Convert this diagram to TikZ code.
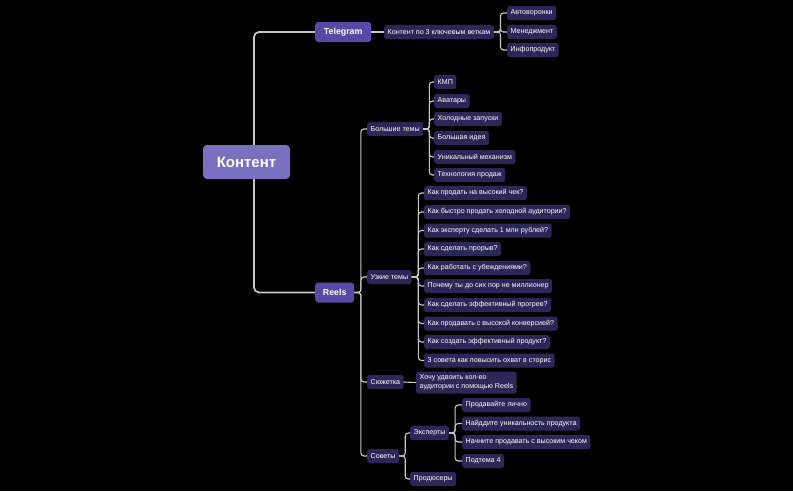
\documentclass[tikz,border=0pt]{standalone}
\usepackage{fontspec}
\setmainfont{Liberation Sans}
\definecolor{bgc}{HTML}{000000}
\definecolor{linec}{HTML}{C8C8C8}
\definecolor{rootc}{HTML}{7A70C0}
\definecolor{midc}{HTML}{5849A6}
\definecolor{leafc}{HTML}{2D2757}
\begin{document}
\begin{tikzpicture}[x=1pt,y=-1pt,
  conn/.style={draw=linec, line width=1.1pt, rounded corners=3pt},
  mainconn/.style={draw=linec, line width=1.7pt, rounded corners=5pt},
  leaf/.style={fill=leafc, text=white, rounded corners=2.5pt, anchor=west,
    minimum height=14pt, inner xsep=3.5pt, inner ysep=0pt,
    font=\fontsize{7.1}{8.5}\selectfont},
  mid/.style={fill=midc, text=white, rounded corners=3pt, anchor=west,
    minimum height=20pt, inner xsep=0pt, inner ysep=0pt,
    font=\fontsize{8.8}{10}\selectfont\bfseries},
  rootbox/.style={fill=rootc, text=white, rounded corners=4pt,
    minimum width=87pt, minimum height=34pt, inner sep=0pt,
    font=\fontsize{15}{17}\selectfont\bfseries}]
\fill[bgc] (0,-1) rectangle (793,490);
\useasboundingbox (0,-1) rectangle (793,490);

% connectors from root (drawn first, behind root)
\coordinate (rtop) at (254,150);
\coordinate (rbot) at (254,172);

% nodes
\node[mid, minimum width=56pt] (tg) at (315,31) {Telegram};
\node[mid, minimum width=39pt] (reels) at (315,291.5) {Reels};

\draw[mainconn] (rtop) |- (tg.west);
\draw[mainconn] (rbot) |- (reels.west);
\node[rootbox] (root) at (246.5,161) {Контент};

% Telegram branch
\node[leaf] (k3) at (384,31) {Контент по 3 ключевым веткам};
\node[leaf] (t1) at (507,12) {Автоворонки};
\node[leaf] (t2) at (507,31) {Менеджмент};
\node[leaf] (t3) at (507,49) {Инфопродукт};
\draw[conn] (tg.east) -- (k3.west);
\foreach \c in {t1,t2,t3} \draw[conn] (k3.east) -- ++(6.5,0) |- (\c.west);

% Reels branch
\node[leaf] (bt) at (367,128) {Большие темы};
\node[leaf] (ut) at (367,276) {Узкие темы};
\node[leaf] (sj) at (367,381) {Сюжетка};
\node[leaf] (sv) at (367,455) {Советы};
\foreach \c in {bt,ut,sj,sv} \draw[conn] (reels.east) -- ++(6.5,0) |- (\c.west);

% Большие темы
\node[leaf] (b1) at (434,81) {КМП};
\node[leaf] (b2) at (434,100) {Аватары};
\node[leaf] (b3) at (434,118) {Холодные запуски};
\node[leaf] (b4) at (434,137) {Большая идея};
\node[leaf] (b5) at (434,156) {Уникальный механизм};
\node[leaf] (b6) at (434,174) {Технология продаж};
\foreach \c in {b1,b2,b3,b4,b5,b6} \draw[conn] (bt.east) -- ++(6,0) |- (\c.west);

% Узкие темы
\node[leaf] (u1) at (424,192) {Как продать на высокий чек?};
\node[leaf] (u2) at (424,211) {Как быстро продать холодной аудитории?};
\node[leaf] (u3) at (424,229.5) {Как эксперту сделать 1 млн рублей?};
\node[leaf] (u4) at (424,248) {Как сделать прорыв?};
\node[leaf] (u5) at (424,267) {Как работать с убеждениями?};
\node[leaf] (u6) at (424,285) {Почему ты до сих пор не миллионер};
\node[leaf] (u7) at (424,304) {Как сделать эффективный прогрев?};
\node[leaf] (u8) at (424,322.5) {Как продавать с высокой конверсией?};
\node[leaf] (u9) at (424,341) {Как создать эффективный продукт?};
\node[leaf] (u10) at (424,359.5) {3 совета как повысить охват в сторис};
\foreach \c in {u1,u2,u3,u4,u5,u6,u7,u8,u9,u10} \draw[conn] (ut.east) -- ++(6.5,0) |- (\c.west);

% Сюжетка
\node[leaf, minimum height=22pt, align=left] (sj1) at (416,381.5) {Хочу удвоить кол-во\\аудитории с помощью Reels};
\draw[conn] (sj.east) -- (sj1.west);

% Советы
\node[leaf] (ex) at (410,432) {Эксперты};
\node[leaf] (pr) at (410,478) {Продюсеры};
\foreach \c in {ex,pr} \draw[conn] (sv.east) -- ++(6,0) |- (\c.west);

\node[leaf] (e1) at (462,404) {Продавайте лично};
\node[leaf] (e2) at (462,422.5) {Найддите уникальность продукта};
\node[leaf] (e3) at (462,441) {Начните продавать с высоким чеком};
\node[leaf] (e4) at (462,460) {Подтема 4};
\foreach \c in {e1,e2,e3,e4} \draw[conn] (ex.east) -- ++(6,0) |- (\c.west);
\end{tikzpicture}
\end{document}
